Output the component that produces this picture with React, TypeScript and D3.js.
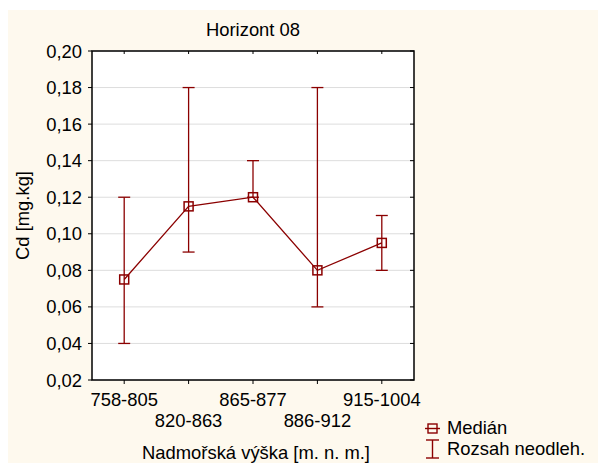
import React from "react";
import * as d3 from "d3";

const categories = ["758-805", "820-863", "865-877", "886-912", "915-1004"];
const medians = [0.075, 0.115, 0.12, 0.08, 0.095];
const mins = [0.04, 0.09, 0.12, 0.06, 0.08];
const maxs = [0.12, 0.18, 0.14, 0.18, 0.11];
const yTicks = [0.02, 0.04, 0.06, 0.08, 0.1, 0.12, 0.14, 0.16, 0.18, 0.2];

const W = 598;
const H = 463;
const left = 92;
const right = 414;
const top = 51;
const bottom = 380;
const red = "#8b0000";
const font = "'Liberation Sans', Arial, sans-serif";
const fs = 18.4;

export default function App() {
  const x = d3.scaleBand<string>().domain(categories).range([left, right]);
  const cx = (c: string) => (x(c) as number) + x.bandwidth() / 2;
  const y = d3.scaleLinear().domain([0.02, 0.2]).range([bottom, top]);
  const fmt = (v: number) => v.toFixed(2).replace(".", ",");
  const line = d3
    .line<number>()
    .x((_, i) => cx(categories[i]))
    .y((d) => y(d));
  const cap = 6;
  const m = 4.5;

  return (
    <svg
      width={W}
      height={H}
      style={{ position: "absolute", left: 0, top: 0, display: "block" }}
      fontFamily={font}
    >
      <rect x={0} y={0} width={W} height={H} fill="#ffffff" />
      <rect x={8} y={10} width={W - 8} height={H - 10} fill="#fef9ee" />
      <rect x={left} y={top} width={right - left} height={bottom - top} fill="#ffffff" />

      {/* horizontal grid */}
      {yTicks.map((t) => (
        <line key={"g" + t} x1={left} x2={right} y1={y(t)} y2={y(t)} stroke="#dddddd" strokeWidth={1} />
      ))}

      {/* title */}
      <text x={(left + right) / 2} y={36} textAnchor="middle" fontSize={fs} fill="#000">
        Horizont 08
      </text>

      {/* y ticks & labels */}
      {yTicks.map((t) => (
        <g key={"y" + t}>
          <line x1={left - 4} x2={left} y1={y(t)} y2={y(t)} stroke="#000" />
          <line x1={right - 4} x2={right} y1={y(t)} y2={y(t)} stroke="#000" />
          <text x={left - 10} y={y(t) + 6.5} textAnchor="end" fontSize={fs} fill="#000">
            {fmt(t)}
          </text>
        </g>
      ))}

      {/* x ticks & staggered labels */}
      {categories.map((c, i) => (
        <g key={"x" + c}>
          <line x1={cx(c)} x2={cx(c)} y1={bottom} y2={bottom + 4} stroke="#000" />
          <line x1={cx(c)} x2={cx(c)} y1={top} y2={top + 3} stroke="#000" />
          <text x={cx(c)} y={i % 2 === 0 ? 406 : 427} textAnchor="middle" fontSize={fs} fill="#000">
            {c}
          </text>
        </g>
      ))}

      {/* frame */}
      <rect x={left} y={top} width={right - left} height={bottom - top} fill="none" stroke="#000" strokeWidth={1.5} />

      {/* axis titles */}
      <text x={(left + right) / 2 + 3} y={459} textAnchor="middle" fontSize={fs} fill="#000">
        Nadmořská výška [m. n. m.]
      </text>
      <text
        transform={`translate(29, ${(top + bottom) / 2}) rotate(-90)`}
        textAnchor="middle"
        fontSize={fs}
        fill="#000"
      >
        Cd [mg.kg]
      </text>

      {/* range whiskers */}
      {categories.map((c, i) => (
        <g key={"w" + c} stroke={red} strokeWidth={1.3} fill="none">
          <line x1={cx(c)} x2={cx(c)} y1={y(mins[i])} y2={y(maxs[i])} />
          <line x1={cx(c) - cap} x2={cx(c) + cap} y1={y(mins[i])} y2={y(mins[i])} />
          <line x1={cx(c) - cap} x2={cx(c) + cap} y1={y(maxs[i])} y2={y(maxs[i])} />
        </g>
      ))}

      {/* median line */}
      <path d={line(medians) as string} fill="none" stroke={red} strokeWidth={1.3} />
      {medians.map((v, i) => (
        <rect
          key={"m" + i}
          x={cx(categories[i]) - m}
          y={y(v) - m}
          width={2 * m}
          height={2 * m}
          fill="none"
          stroke={red}
          strokeWidth={1.5}
        />
      ))}

      {/* legend */}
      <g stroke={red} strokeWidth={1.4} fill="none">
        <rect x={428} y={424} width={9} height={9} />
        <line x1={425} x2={440} y1={428.5} y2={428.5} />
        <line x1={432.5} x2={432.5} y1={440} y2={458} />
        <line x1={426} x2={439} y1={440} y2={440} />
        <line x1={426} x2={439} y1={458} y2={458} />
      </g>
      <text x={447} y={434} fontSize={fs} fill="#000">
        Medián
      </text>
      <text x={447} y={455} fontSize={fs} fill="#000">
        Rozsah neodleh.
      </text>
    </svg>
  );
}
